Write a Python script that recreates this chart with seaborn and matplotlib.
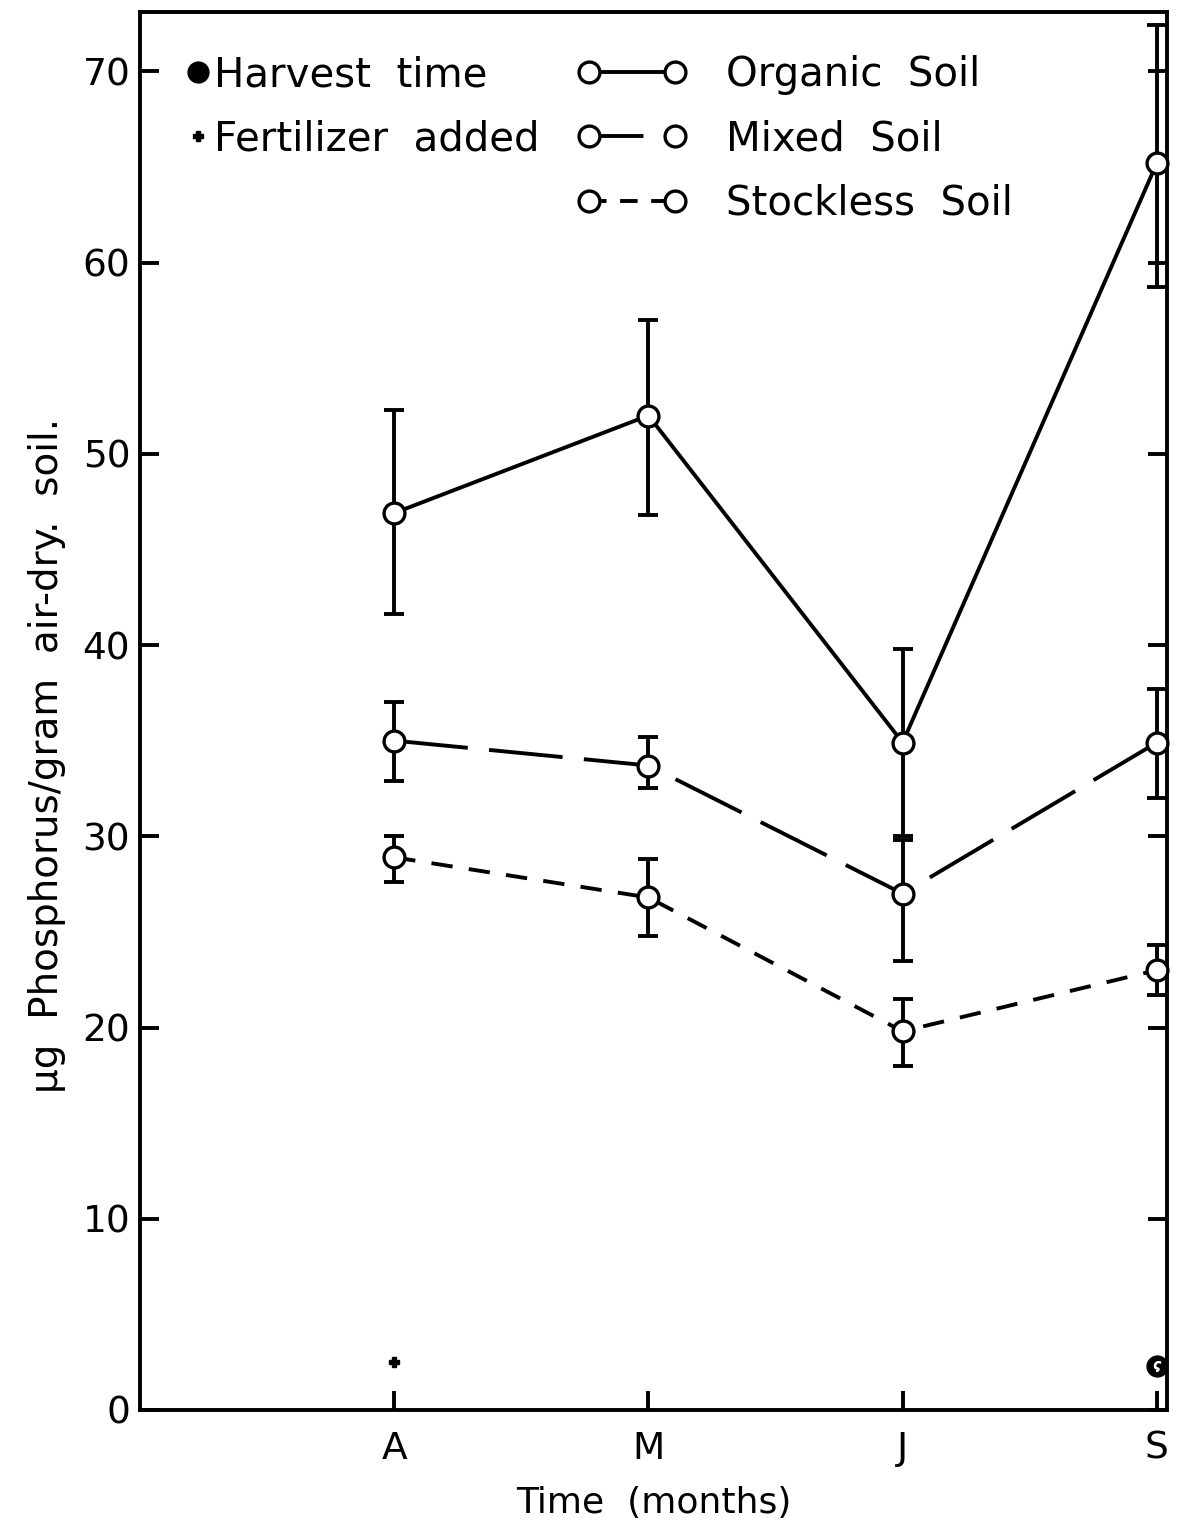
import matplotlib
matplotlib.use("Agg")
import matplotlib.pyplot as plt
from matplotlib.lines import Line2D
import seaborn as sns
import pandas as pd
import numpy as np

# ---- data ----
months = ["A", "M", "J", "S"]
month_pos = [1, 2, 3, 4]

organic = [46.9, 52.0, 34.9, 65.2]
organic_lo = [41.6, 46.8, 30.0, 58.7]
organic_hi = [52.3, 57.0, 39.8, 72.4]

mixed = [35.0, 33.7, 27.0, 34.9]
mixed_lo = [32.9, 32.5, 23.5, 32.0]
mixed_hi = [37.0, 35.2, 29.8, 37.7]

stockless = [28.9, 26.8, 19.8, 23.0]
stockless_lo = [27.6, 24.8, 18.0, 21.7]
stockless_hi = [30.0, 28.8, 21.5, 24.3]

soil_names = ["Organic  Soil", "Mixed  Soil", "Stockless  Soil"]

fertilizer_month = [1]
fertilizer_y = [2.5]
harvest_month = [4]
harvest_y = [2.3]

yticks = [0, 10, 20, 30, 40, 50, 60, 70]

# ---- style ----
sns.set_theme(style="ticks")
plt.rcParams["font.family"] = ["DejaVu Sans"]
plt.rcParams["text.color"] = "black"
plt.rcParams["axes.labelcolor"] = "black"
FS_TICK = 27
FS_LEG = 29
LW = 2.8

df = pd.DataFrame({
    "x": month_pos * 3,
    "y": organic + mixed + stockless,
    "soil": [soil_names[0]] * 4 + [soil_names[1]] * 4 + [soil_names[2]] * 4,
})

dash_map = {
    soil_names[0]: "",
    soil_names[1]: (19, 5.5),
    soil_names[2]: (5.5, 4.2),
}
legend_dash = {
    soil_names[0]: None,
    soil_names[1]: (14, 8),
    soil_names[2]: (4.5, 3.5),
}

fig = plt.figure(figsize=(11.97, 15.31), dpi=100)
ax = fig.add_axes([140 / 1197, 121 / 1531, (1167 - 140) / 1197, (1410 - 12) / 1531])

# error bars
for vals, lo, hi in [(organic, organic_lo, organic_hi),
                     (mixed, mixed_lo, mixed_hi),
                     (stockless, stockless_lo, stockless_hi)]:
    v = np.array(vals)
    yerr = np.vstack([v - np.array(lo), np.array(hi) - v])
    ax.errorbar(month_pos, v, yerr=yerr, fmt="none", ecolor="black",
                elinewidth=LW, capsize=7.5, capthick=LW, zorder=2, clip_on=False)

sns.lineplot(data=df, x="x", y="y", hue="soil", style="soil",
             palette={n: "black" for n in soil_names}, dashes=dash_map,
             markers={n: "o" for n in soil_names}, markersize=15,
             markerfacecolor="white", markeredgecolor="black", markeredgewidth=2.4,
             linewidth=LW, ax=ax, legend=False, zorder=3, clip_on=False,
             errorbar=None)

# harvest and fertilizer markers
ax.plot(harvest_month, harvest_y, ls="", marker="o", ms=15, color="black", zorder=4)
ax.plot(harvest_month, harvest_y, ls="", marker=r"$\varsigma$", ms=7, color="white", zorder=5)
ax.plot(fertilizer_month, fertilizer_y, ls="", marker="P", ms=7, color="black", zorder=4)

ax.set_xlim(0, 4.04)
ax.set_ylim(0, 73.1)
ax.set_xticks(month_pos)
ax.set_xticklabels(months)
ax.set_yticks(yticks)
ax.set_yticklabels([str(t) for t in yticks])

for s in ax.spines.values():
    s.set_linewidth(LW)
    s.set_color("black")

ax.tick_params(axis="y", direction="in", length=14, width=LW, left=True, right=True,
               labelsize=FS_TICK, pad=7, colors="black")
ax.tick_params(axis="x", direction="in", length=14, width=LW, bottom=True, top=False,
               labelsize=FS_TICK, pad=15, colors="black")

ax.set_xlabel("Time  (months)", fontsize=26, labelpad=14, color="black")
ax.set_ylabel("\u03bcg  Phosphorus/gram  air-dry.  soil.", fontsize=28, color="black")
ax.yaxis.set_label_coords(-0.072, 0.4685)
ax.grid(False)

# legends
h_harvest = Line2D([], [], ls="", marker="o", ms=15, color="black")
h_fert = Line2D([], [], ls="", marker="P", ms=7, color="black")
leg1 = ax.legend(handles=[h_harvest, h_fert], labels=["Harvest  time", "Fertilizer  added"],
                 loc="upper left", bbox_to_anchor=(0.045, 0.969), frameon=False,
                 fontsize=FS_LEG, handlelength=0.6, handletextpad=0.1, labelspacing=0.6,
                 borderpad=0, borderaxespad=0, labelcolor="black")
ax.add_artist(leg1)

soil_handles = []
for n in soil_names:
    d = legend_dash[n]
    h = Line2D([], [], color="black", lw=LW, marker="o", ms=15, mfc="white",
               mec="black", mew=2.4)
    if d:
        h.set_dashes(d)
    soil_handles.append(h)
ax.legend(handles=soil_handles, labels=soil_names, loc="upper left",
          bbox_to_anchor=(0.425, 0.969), frameon=False, fontsize=FS_LEG, numpoints=2,
          handlelength=2.75, handletextpad=0.95, labelspacing=0.6, borderpad=0,
          borderaxespad=0, labelcolor="black")

fig.savefig("out.png", dpi=100, facecolor="white")
